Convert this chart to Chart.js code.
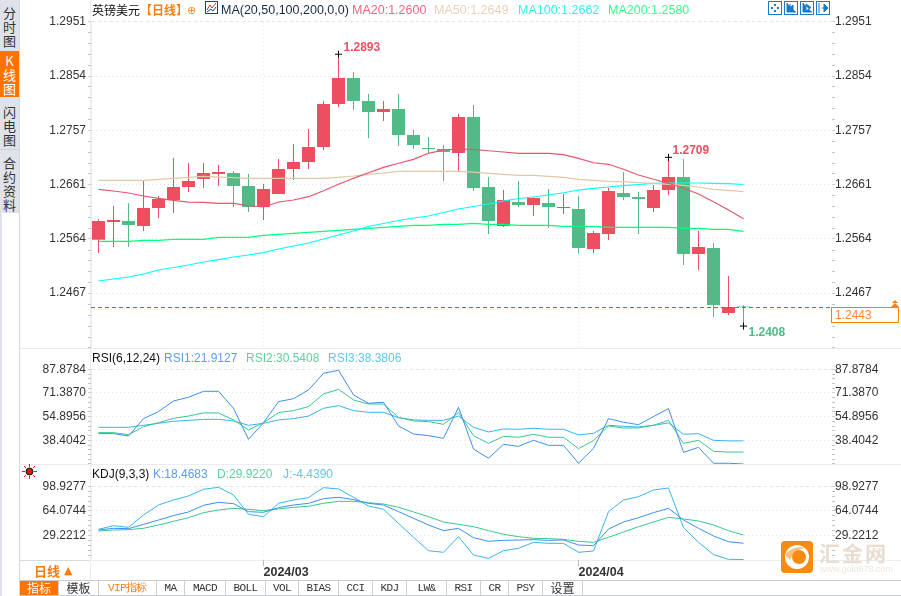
<!DOCTYPE html>
<html>
<head>
<meta charset="utf-8">
<title>英镑美元 日线</title>
<script src="https://cdn.jsdelivr.net/npm/chart.js@4/dist/chart.umd.min.js"></script>
<style>
html, body { margin: 0; padding: 0; background: #fff; width: 901px; height: 596px; overflow: hidden; }
body { font-family: "Liberation Sans", "Noto Sans CJK SC", sans-serif; font-size: 12px; color: #222; }
canvas { position: absolute; left: 0; }
.t { position: absolute; white-space: nowrap; line-height: 14px; }
.m { font-size: 12.5px; }
.ln { position: absolute; background: #e9edf0; }
.tab { position: absolute; left: 0; width: 19px; text-align: center; font-size: 13px; line-height: 14px; color: #333; font-family: "Noto Sans CJK SC", sans-serif; }
.btn { position: absolute; top: 581px; height: 14px; line-height: 14px; text-align: center; border-right: 1px solid #ccd0d4; box-sizing: border-box; color: #333; font-family: "Liberation Mono", monospace; font-size: 11px; letter-spacing: -.6px; }
.cj { font-family: "Noto Sans CJK SC", sans-serif; font-size: 12px; letter-spacing: 0; }
.ic { position: absolute; top: 1px; }
</style>
</head>
<body>
<div class="ln" style="left:0;top:0;width:2px;height:596px;background:#dfe2ea"></div>
<div class="ln" style="left:0;top:0;width:19px;height:213px;background:#e0e2ea"></div>
<div class="ln" style="left:19px;top:0;width:1px;height:596px;background:#d5d8df"></div>
<div class="ln" style="left:0;top:51px;width:19px;height:46px;background:#ff7300"></div>
<div class="ln" style="left:0;top:149px;width:19px;height:1px;background:#cfd2da"></div>
<div class="tab" style="top:6px">分<br>时<br>图</div>
<div class="tab" style="top:54px;color:#fff">K<br>线<br>图</div>
<div class="tab" style="top:105px">闪<br>电<br>图</div>
<div class="tab" style="top:156px">合<br>约<br>资<br>料</div>

<div class="ln" style="left:90px;top:0;width:1px;height:580px"></div>
<div class="ln" style="left:20px;top:348px;width:881px;height:1px"></div>
<div class="ln" style="left:20px;top:464px;width:881px;height:1px"></div>
<div class="ln" style="left:90px;top:560px;width:811px;height:1px"></div>
<div class="ln" style="left:20px;top:560px;width:70px;height:1px;background:#d8dbe0"></div>
<div class="ln" style="left:20px;top:580px;width:881px;height:1px;background:#c9cdd2"></div>
<div class="ln" style="left:20px;top:595px;width:881px;height:1px;background:#c9cdd2"></div>

<canvas id="main" width="901" height="349" style="top:0"></canvas>
<canvas id="rsi" width="901" height="115" style="top:349px"></canvas>
<canvas id="kdj" width="901" height="116" style="top:464px"></canvas>

<div class="t cj" style="left:92px;top:3px;color:#111">英镑美元</div>
<div class="t cj" style="left:140px;top:3px;color:#ff7f0e;font-weight:bold">【日线】</div>
<div class="t" style="left:187px;top:4px;color:#ff8a20;font-family:'DejaVu Sans';font-size:11px">⊕</div>
<svg class="ic" style="left:205px" width="13" height="13"><rect x=".5" y=".5" width="12" height="12" fill="#fff" stroke="#1b3f8f"/><path d="M2 9L5 4L7 7L11 2" fill="none" stroke="#e03030"/><path d="M2 11L6 8L8 10L11 6" fill="none" stroke="#1b3f8f"/></svg>
<div class="t m" style="left:221px;top:3px;color:#1a2a44">MA(20,50,100,200,0,0)</div>
<div class="t m" style="left:352px;top:3px;color:#f0667f">MA20:1.2600</div>
<div class="t m" style="left:434px;top:3px;color:#e6d2b8">MA50:1.2649</div>
<div class="t m" style="left:518px;top:3px;color:#33f0f0">MA100:1.2662</div>
<div class="t m" style="left:608px;top:3px;color:#33ff8f">MA200:1.2580</div>

<svg class="ic" style="left:768px" width="14" height="14"><rect x=".5" y=".5" width="13" height="13" fill="#fff" stroke="#1a7ac8"/><path d="M7 3v2M7 9v2M3 7h2M9 7h2" stroke="#1a7ac8" stroke-width="2"/></svg>
<svg class="ic" style="left:784px" width="14" height="14"><rect x=".5" y=".5" width="13" height="13" fill="#fff" stroke="#1a7ac8"/><path d="M3 2v9h9M6 3v6M9 4l-3 2.5 3 2.5z" fill="#1a7ac8" stroke="#1a7ac8"/></svg>
<svg class="ic" style="left:800px" width="14" height="14"><rect x=".5" y=".5" width="13" height="13" fill="#fff" stroke="#1a7ac8"/><path d="M3 2v9h9M6 3l5 3.5-5 3.5z" fill="#1a7ac8" stroke="#1a7ac8"/></svg>
<svg class="ic" style="left:816px" width="14" height="14"><rect x=".5" y=".5" width="13" height="13" fill="#fff" stroke="#1a7ac8"/><path d="M3 2v10M6 7h3M8 3l4 4-4 4z" fill="#1a7ac8" stroke="#1a7ac8"/></svg>

<svg style="position:absolute;left:890px;top:300px" width="10" height="8"><path d="M5 0L8 3H2zM5 3L9 7H1z" fill="#ff8000"/></svg>
<div style="position:absolute;left:831px;top:307px;width:66px;height:14px;border:1.5px solid #ff8000;background:#fff"></div>
<div class="t" style="left:835px;top:308px;color:#ff8833">1.2443</div>

<div class="t" style="left:92px;top:351px;color:#111">RSI(6,12,24)</div>
<div class="t" style="left:164px;top:351px;color:#5a9cf2">RSI1:21.9127</div>
<div class="t" style="left:246px;top:351px;color:#62cf9c">RSI2:30.5408</div>
<div class="t" style="left:328px;top:351px;color:#62c6ee">RSI3:38.3806</div>

<svg style="position:absolute;left:22px;top:464px" width="15" height="15"><path d="M7.5 0v3M7.5 12v3M0 7.5h3M12 7.5h3M2 2l2 2M11 11l2 2M13 2l-2 2M4 11l-2 2" stroke="#f02020"/><circle cx="7.5" cy="7.5" r="3.5" fill="#e01010" stroke="#111"/></svg>
<div class="t" style="left:92px;top:467px;color:#111">KDJ(9,3,3)</div>
<div class="t" style="left:153px;top:467px;color:#5a9cf2">K:18.4683</div>
<div class="t" style="left:217px;top:467px;color:#62cf9c">D:29.9220</div>
<div class="t" style="left:283px;top:467px;color:#62c6ee">J:-4.4390</div>

<div class="t cj" style="left:34px;top:564px;color:#ff7a10;font-size:13px;font-weight:bold">日线</div>
<div class="t" style="left:64px;top:564px;color:#ff7a10;font-size:11px;font-family:'DejaVu Sans'">▲</div>
<div id="bar"></div>

<svg style="position:absolute;left:781px;top:541px" width="32" height="32"><rect width="32" height="32" rx="4" fill="#f98a10"/><circle cx="16" cy="16" r="12" fill="#fff"/><circle cx="18" cy="16" r="7" fill="#f98a10"/><path d="M4 14Q12 4 24 7Q13 8 9 19z" fill="#f98a10" opacity=".55"/></svg>
<div class="t cj" style="left:819px;top:539px;color:#e9ddd2;font-size:21px;line-height:26px;font-weight:bold;letter-spacing:2px">汇金网</div>
<div class="t" style="left:820px;top:564px;color:#ede6df;font-size:9px;line-height:11px">www.gold678.com</div>

<script>
// K线
const opens  = [1.25621,1.25937,1.25954,1.25865,1.26186,1.26329,1.26561,1.26704,1.26793,1.26811,1.26579,1.26204,1.26436,1.26882,1.27007,1.27275,1.28042,1.28505,1.28095,1.27899,1.27952,1.27489,1.27257,1.27239,1.27167,1.2781,1.26561,1.25865,1.26293,1.2624,1.26275,1.26186,1.26168,1.25455,1.25722,1.26454,1.26383,1.26186,1.26507,1.26739,1.25366,1.25473,1.24313,1.2444];
const highs  = [1.2599,1.26222,1.26275,1.26668,1.264,1.27078,1.26989,1.26989,1.26953,1.26846,1.26793,1.26614,1.2706,1.27328,1.27596,1.28095,1.2893,1.28613,1.2822,1.28095,1.2822,1.27578,1.27453,1.2731,1.27863,1.28024,1.26739,1.26507,1.26668,1.26383,1.26525,1.26436,1.264,1.25776,1.26543,1.26829,1.26472,1.26597,1.2709,1.2706,1.25776,1.25562,1.24973,1.24456];
const lows   = [1.25383,1.25491,1.25491,1.25776,1.26008,1.26097,1.26472,1.26543,1.26579,1.26204,1.26115,1.25972,1.26436,1.26686,1.26882,1.27221,1.27988,1.27935,1.27435,1.27738,1.27292,1.27239,1.27167,1.26668,1.26846,1.2649,1.25722,1.25847,1.26204,1.26044,1.25829,1.26079,1.25383,1.25383,1.25615,1.26329,1.25722,1.26115,1.26418,1.25169,1.2508,1.24242,1.24277,1.2408];
const closes = [1.25954,1.25972,1.25883,1.26186,1.26347,1.26561,1.26668,1.26811,1.26829,1.26579,1.26204,1.26525,1.26882,1.27007,1.27275,1.28042,1.28505,1.28095,1.27899,1.27952,1.27489,1.2731,1.27239,1.27185,1.2781,1.26543,1.25954,1.26329,1.2624,1.26365,1.26204,1.26204,1.25473,1.2574,1.2649,1.26383,1.26347,1.26507,1.26739,1.25366,1.25491,1.24456,1.2442,1.2443];

const ma20  = [1.2652,1.2649,1.26454,1.264,1.26359,1.26324,1.26293,1.26288,1.2627,1.2627,1.26227,1.26204,1.26293,1.26329,1.26388,1.26495,1.26609,1.26716,1.26816,1.26912,1.26984,1.27055,1.27162,1.27221,1.27239,1.27234,1.27208,1.27185,1.27162,1.27162,1.27162,1.27137,1.27073,1.26994,1.26966,1.26877,1.26775,1.26699,1.26627,1.26538,1.26436,1.26299,1.2615,1.25995];
const ma50  = [1.26681,1.26681,1.26681,1.26681,1.26698,1.26716,1.26734,1.26752,1.26739,1.26727,1.26716,1.26716,1.26716,1.26716,1.26716,1.26716,1.26734,1.26757,1.26787,1.2681,1.26841,1.26841,1.26841,1.26841,1.26841,1.26828,1.26805,1.26787,1.2677,1.2677,1.26752,1.26734,1.26698,1.26681,1.26663,1.26656,1.26638,1.26627,1.26609,1.26591,1.26561,1.2652,1.26502,1.26477];
const ma100 = [1.24884,1.2492,1.24955,1.25009,1.2508,1.25125,1.25169,1.25223,1.25267,1.25312,1.25348,1.25389,1.25455,1.25508,1.25562,1.25633,1.25705,1.25776,1.25856,1.2591,1.25963,1.26008,1.26044,1.26106,1.26168,1.26213,1.26258,1.26311,1.26356,1.26383,1.26418,1.26459,1.26507,1.26538,1.26561,1.26584,1.26606,1.26627,1.26632,1.26632,1.26632,1.26627,1.26623,1.26606];
const ma200 = [1.25592,1.25592,1.25592,1.2561,1.2561,1.25628,1.25628,1.25628,1.25664,1.25664,1.25664,1.25699,1.25717,1.25735,1.25753,1.25771,1.25788,1.25806,1.25824,1.25842,1.2586,1.25878,1.25878,1.25896,1.25896,1.25913,1.25896,1.25896,1.25878,1.25878,1.25878,1.2586,1.2586,1.2586,1.25842,1.25842,1.25842,1.25842,1.25842,1.25824,1.25824,1.25806,1.25806,1.25771];

const rsi1 = [43.05,43.05,41.4,53.5,58.4,65.8,68.4,72.55,72.55,60.7,39.1,50.7,65.35,67.4,73.5,85.1,87.2,70,64.2,64.9,48.4,42.8,41.65,39.8,61.4,32.35,25.9,35.6,34.2,38.4,34.9,34.9,22.4,32.8,53.5,51,49.3,54.9,60.5,30,33.5,22.4,22.4,21.9];
const rsi2 = [43.75,43.75,42.35,47.9,50.7,53.7,55.3,57.45,57.45,52.6,45.6,50.7,57.7,59.1,61.9,70.7,73.9,66.5,63.7,63.7,54.4,51.9,51.4,49.55,57.7,41.65,36.3,41.2,40.5,42.6,40.5,40.5,32.6,38.2,48.4,47,47,48.9,52.3,36.3,38.4,30.75,30.2,30.2];
const rsi3 = [47.45,47.45,47.45,48.85,50.25,51.65,52.3,53,53,51.9,48.85,50.25,52.6,53.5,55.3,60.7,62.6,59.1,57.9,57.9,54.2,52.6,52.3,52.3,55.3,47.45,44.2,46.3,46.1,46.8,46.1,46.1,42.1,43.3,48.85,48.15,47.7,48.85,50.5,42.6,43.05,38.4,38,38];

const kdjK = [37.2,39.6,39.1,45.2,51.3,57.5,62.7,72.1,76.3,74.4,63.1,62.2,68.8,72.5,74.9,81.5,83.4,80.1,74.9,72.5,63.1,53.7,44.3,36.3,39.6,26.4,21.2,22.6,23.1,23.6,22.6,23.1,16,15.1,38.6,48.5,54.6,61.7,67.8,51.3,39.6,28.8,20.7,18.47];
const kdjD = [35.8,37.2,37.7,39.6,44.3,49.5,54.6,61.7,65.5,67.8,66.4,64.5,66.9,69.3,70.7,74.9,77.7,77.7,75.8,73.9,69.3,62.7,56,48.5,45.2,41.9,36.3,31.1,27.8,25.5,25,24,21.2,19.8,26.9,34.4,41.9,48.5,55.1,52.8,49.9,44.3,36.3,30.1];
const kdjJ = [38.2,43.3,41,58.4,72.5,79.6,85.3,94.7,97.5,86.7,59.4,56,74.9,79.6,82.9,97,95.2,83.4,71.1,66.4,46.6,26.9,8,5.7,27.8,1.9,-2.8,8,11.3,19.8,18.4,18.4,5.7,7.6,63.1,79.6,84.3,93.7,96.6,40.5,19.8,2.4,-4.2,-4.44];

const priceTicks = [1.2951,1.2854,1.2757,1.2661,1.2564,1.2467];
const rsiTicks = [87.8784,71.3870,54.8956,38.4042];
const kdjTicks = [98.9277,64.0744,29.2212];
const monthPos = [11,32];
const monthLabels = ['2024/03','2024/04'];
const lastLine = 1.2441;
const extremes = [
  {i:16, v:1.2893, color:'#ee4f62', dx:5, dy:-7},
  {i:38, v:1.2709, color:'#ee4f62', dx:4, dy:-7},
  {i:43, v:1.2408, color:'#4fba86', dx:5, dy:7}
];

const buttons = ['指标','模板','VIP指标','MA','MACD','BOLL','VOL','BIAS','CCI','KDJ','LW&','RSI','CR','PSY','设置'];
const buttonEdges = [20,59,99,157,185,226,266,299,339,373,407,447,481,509,543,583];

const RED = '#ee4f60', GREEN = '#52ba86';
const xy = arr => arr.map((v, i) => ({x: i, y: v}));
const bodyColors = closes.map((c, i) => c >= opens[i] ? RED : GREEN);

function line(arr, color, order, width) {
  return {type: 'line', data: xy(arr), borderColor: color, borderWidth: width || 1, pointRadius: 0, tension: 0, order: order, clip: false};
}

// 主图和副图都用同一套坐标设置，只有刻度和高度不一样
function makeOptions(ticks, yMin, yMax, padTop, xHeight, showMonths) {
  const step = Math.abs(ticks[1] - ticks[0]) / 5;
  function allTicks(scale) {
    const out = ticks.map(v => ({value: v, major: true}));
    for (let v = ticks[0] - step; v > yMin; v -= step) {
      if (!ticks.some(m => Math.abs(m - v) < step / 2)) out.push({value: v, major: false});
    }
    scale.ticks = out;
  }
  const yAxis = (side, width) => ({
    type: 'linear', position: side, min: yMin, max: yMax, beginAtZero: false,
    afterBuildTicks: allTicks,
    afterFit: s => { s.width = width; s.paddingTop = 0; s.paddingBottom = 0; },
    border: {display: side === 'left', color: '#e9edf0', dash: c => c.index === 0 ? [3, 3] : [1, 3]},
    grid: {
      drawOnChartArea: side === 'left', tickLength: 3,
      color: c => c.tick && c.tick.major ? '#e4e4e4' : 'transparent',
      tickColor: c => c.tick && c.tick.major ? '#c8d0d8' : '#c4c4c4'
    },
    ticks: {
      autoSkip: false, padding: side === 'left' ? 2 : 0, color: '#333',
      font: {family: '"Liberation Sans"', size: 12},
      callback: (v, i, t) => t[i].major ? v.toFixed(4) : ''
    }
  });
  return {
    responsive: false, animation: false, devicePixelRatio: 1,
    layout: {autoPadding: false, padding: {top: padTop, left: 0, right: 0, bottom: 0}},
    plugins: {legend: {display: false}, tooltip: {enabled: false}},
    events: [],
    scales: {
      x: {
        type: 'linear', min: -0.5, max: 48.9, offset: false,
        afterBuildTicks: s => { s.ticks = monthPos.map(v => ({value: v})); },
        afterFit: s => { s.height = xHeight; s.paddingLeft = 0; s.paddingRight = 0; },
        border: {display: false, dash: [1, 3]},
        grid: {offset: false, color: '#e4e4e4', tickLength: showMonths ? 6 : 0, tickColor: '#bbb', drawTicks: showMonths},
        ticks: {
          display: showMonths, autoSkip: false, maxRotation: 0, align: 'start', padding: -1, color: '#333',
          font: {family: '"Liberation Sans"', size: 12.5, weight: 'bold'},
          callback: v => monthLabels[monthPos.indexOf(v)]
        }
      },
      y: yAxis('left', 91),
      yr: yAxis('right', 69)
    }
  };
}

const extremeLabels = {
  id: 'extremeLabels',
  afterDatasetsDraw(chart) {
    const c = chart.ctx;
    c.save();
    c.font = 'bold 12px "Liberation Sans"';
    c.textBaseline = 'middle';
    extremes.forEach(e => {
      c.fillStyle = e.color;
      c.fillText(e.v.toFixed(4), chart.scales.x.getPixelForValue(e.i) + e.dx, chart.scales.y.getPixelForValue(e.v) + e.dy);
    });
    c.restore();
  }
};

new Chart(document.getElementById('main'), {
  type: 'bar',
  data: {
    datasets: [
      {type: 'line', data: extremes.map(e => ({x: e.i, y: e.v})), showLine: false, pointStyle: 'cross', pointRadius: 3.5, pointBorderColor: '#000', pointBorderWidth: 1, order: 0, clip: false},
      {type: 'line', data: [{x: -0.5, y: lastLine}, {x: 48.9, y: lastLine}], borderColor: '#1f7ed8', borderWidth: 1, borderDash: [4, 3], pointRadius: 0, order: 1},
      line(ma20, '#e9546c', 2, 1.2),
      line(ma50, '#e0c9a6', 3, 1.2),
      line(ma100, '#00ffff', 4, 1.2),
      line(ma200, '#00ff7f', 5, 1.2),
      {data: opens.map((o, i) => ({x: i, y: [o, closes[i]]})), backgroundColor: bodyColors, barThickness: 13, grouped: false, inflateAmount: 0, order: 6},
      {data: highs.map((h, i) => ({x: i, y: [lows[i], h]})), backgroundColor: bodyColors, barThickness: 1, grouped: false, inflateAmount: 0, order: 7}
    ]
  },
  options: makeOptions(priceTicks, 1.23671, 1.2951, 21.7, 0, false),
  plugins: [extremeLabels]
});

new Chart(document.getElementById('rsi'), {
  type: 'line',
  data: {datasets: [line(rsi1, '#3d8ff2', 1), line(rsi2, '#38c78c', 2), line(rsi3, '#38b4ea', 3)]},
  options: makeOptions(rsiTicks, 21.89, 87.8784, 20.3, 0, false)
});

new Chart(document.getElementById('kdj'), {
  type: 'line',
  data: {datasets: [line(kdjK, '#3d8ff2', 1), line(kdjD, '#38c78c', 2), line(kdjJ, '#38b4ea', 3)]},
  options: makeOptions(kdjTicks, -5.16, 98.9277, 22.3, 20, true)
});

// 底部工具条
const bar = document.getElementById('bar');
buttons.forEach((b, i) => {
  const d = document.createElement('div');
  d.className = 'btn' + (/[\u4e00-\u9fff]/.test(b) && b.length === 2 ? ' cj' : '');
  d.style.left = buttonEdges[i] + 'px';
  d.style.width = (buttonEdges[i + 1] - buttonEdges[i]) + 'px';
  d.textContent = b;
  if (b === '指标') { d.style.background = '#ff7300'; d.style.color = '#fff'; }
  if (b === 'VIP指标') { d.style.color = '#ff7a10'; }
  bar.appendChild(d);
});
</script>
</body>
</html>
